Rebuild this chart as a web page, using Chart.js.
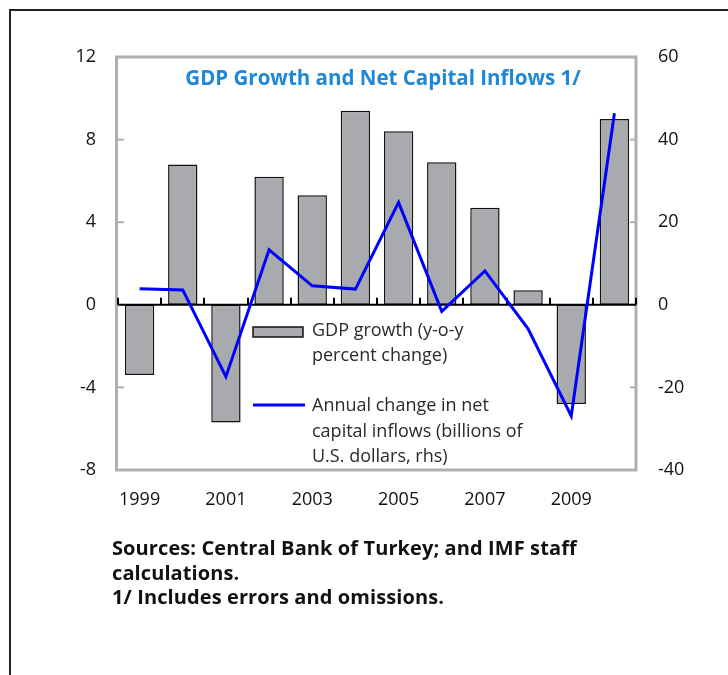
<!DOCTYPE html>
<html>
<head>
<meta charset="utf-8">
<script src="https://cdn.jsdelivr.net/npm/chart.js@4.4.1/dist/chart.umd.min.js"></script>
<style>
  html, body { margin: 0; padding: 0; background: #fff; }
  #wrap { position: relative; width: 728px; height: 675px; overflow: hidden; }
  #frame { position: absolute; left: 9px; top: 9px; width: 800px; height: 700px;
           border-left: 2px solid #222; border-top: 2px solid #222; }
  canvas { position: absolute; left: 0; top: 0; }
  #note { position: absolute; left: 112px; top: 536px; font-family: "Open Sans", sans-serif;
          font-weight: bold; font-size: 20px; line-height: 24.5px; color: #111; letter-spacing: 0.1px; }
</style>
</head>
<body>
<div id="wrap">
  <div id="frame"></div>
  <canvas id="c" width="728" height="675"></canvas>
  <div id="note">Sources: Central Bank of Turkey; and IMF staff<br>calculations.<br>1/ Includes errors and omissions.</div>
</div>
<script>
const years = ["1999","2000","2001","2002","2003","2004","2005","2006","2007","2008","2009","2010"];
const gdpGrowth = [-3.4, 6.8, -5.7, 6.2, 5.3, 9.4, 8.4, 6.9, 4.7, 0.7, -4.8, 9.0];
const capitalInflows = [3.9, 3.6, -17.4, 13.3, 4.6, 3.8, 24.8, -1.6, 8.2, -5.8, -26.9, 46.4];
const leftTicks = [-8, -4, 0, 4, 8, 12];
const rightTicks = [-40, -20, 0, 20, 40, 60];
const titleText = "GDP Growth and Net Capital Inflows 1/";
const legendBarText = ["GDP growth (y-o-y", "percent change)"];
const legendLineText = ["Annual change in net", "capital inflows (billions of", "U.S. dollars, rhs)"];

const FONT = '"Open Sans", sans-serif';

const decor = {
  id: 'decor',
  beforeDatasetsDraw(chart) {
    const ctx = chart.ctx, a = chart.chartArea;
    ctx.save();
    // plot frame
    ctx.strokeStyle = '#b0b0b0';
    ctx.lineWidth = 3;
    ctx.strokeRect(a.left - 1.5, a.top, a.right - a.left + 1.5, a.bottom - a.top);
    // inward ticks on y axes
    ctx.lineWidth = 2;
    const y = chart.scales.y, y1 = chart.scales.y1;
    leftTicks.forEach(v => {
      const p = y.getPixelForValue(v);
      ctx.beginPath(); ctx.moveTo(a.left, p); ctx.lineTo(a.left + 6, p); ctx.stroke();
    });
    rightTicks.forEach(v => {
      const p = y1.getPixelForValue(v);
      ctx.beginPath(); ctx.moveTo(a.right - 6, p); ctx.lineTo(a.right, p); ctx.stroke();
    });
    // title
    ctx.fillStyle = '#1e88d8';
    ctx.font = 'bold 20.5px ' + FONT;
    ctx.textAlign = 'center';
    ctx.textBaseline = 'middle';
    ctx.fillText(titleText, (a.left + a.right) / 2 + 6, a.top + 22);
    ctx.restore();
  },
  afterDatasetDraw(chart, args) {
    if (args.meta.type !== 'bar') return;
    const ctx = chart.ctx, a = chart.chartArea;
    const y0 = chart.scales.y.getPixelForValue(0);
    ctx.save();
    ctx.strokeStyle = '#000';
    ctx.lineWidth = 2;
    ctx.beginPath(); ctx.moveTo(a.left, y0); ctx.lineTo(a.right, y0); ctx.stroke();
    const n = years.length;
    const w = (a.right - a.left) / n;
    for (let i = 0; i <= n; i++) {
      const px = Math.round(a.left + i * w);
      ctx.beginPath(); ctx.moveTo(px, y0); ctx.lineTo(px, y0 - 7); ctx.stroke();
    }
    ctx.restore();
  },
  afterDraw(chart) {
    const ctx = chart.ctx, a = chart.chartArea;
    ctx.save();
    const lx = a.left + 135;
    // bar legend
    ctx.fillStyle = '#a8aaae';
    ctx.fillRect(lx, 327, 50, 10);
    ctx.strokeStyle = '#111';
    ctx.lineWidth = 1.5;
    ctx.strokeRect(lx, 327, 50, 10);
    // line legend
    ctx.strokeStyle = '#0000ff';
    ctx.lineWidth = 3;
    ctx.beginPath(); ctx.moveTo(lx, 405); ctx.lineTo(lx + 52, 405); ctx.stroke();
    ctx.fillStyle = '#2a2a2a';
    ctx.font = '18px ' + FONT;
    ctx.textAlign = 'left';
    ctx.textBaseline = 'middle';
    legendBarText.forEach((t, i) => ctx.fillText(t, lx + 59, 331 + i * 25));
    legendLineText.forEach((t, i) => ctx.fillText(t, lx + 59, 406 + i * 25.5));
    ctx.restore();
  }
};

new Chart(document.getElementById('c'), {
  data: {
    labels: years,
    datasets: [
      {
        type: 'line',
        label: 'Annual change in net capital inflows (billions of U.S. dollars, rhs)',
        data: capitalInflows,
        yAxisID: 'y1',
        borderColor: '#0000ff',
        borderWidth: 3,
        pointRadius: 0,
        tension: 0,
        order: 0
      },
      {
        type: 'bar',
        label: 'GDP growth (y-o-y percent change)',
        data: gdpGrowth,
        yAxisID: 'y',
        backgroundColor: '#a8aaae',
        borderColor: '#111',
        borderWidth: 1.5,
        borderSkipped: false,
        categoryPercentage: 1,
        barPercentage: 0.68,
        order: 1
      }
    ]
  },
  options: {
    responsive: false,
    devicePixelRatio: 1,
    animation: false,
    layout: { padding: { top: 57, left: 0, right: 0, bottom: 0 } },
    plugins: { legend: { display: false }, tooltip: { enabled: false }, title: { display: false } },
    scales: {
      x: {
        grid: { display: false, drawTicks: false },
        border: { display: false },
        afterFit(s) { s.height = 205; },
        ticks: {
          autoSkip: false, maxRotation: 0, padding: 19,
          color: '#111', font: { family: FONT, size: 18 },
          callback(v, i) { return i % 2 === 0 ? years[i] : ''; }
        }
      },
      y: {
        position: 'left',
        min: -8, max: 12,
        afterFit(s) { s.width = 118; },
        afterBuildTicks(s) { s.ticks = leftTicks.map(v => ({ value: v })); },
        grid: { display: false, drawTicks: false },
        border: { display: false },
        ticks: { padding: 22, color: '#111', font: { family: FONT, size: 18 } }
      },
      y1: {
        position: 'right',
        min: -40, max: 60,
        afterFit(s) { s.width = 92; },
        afterBuildTicks(s) { s.ticks = rightTicks.map(v => ({ value: v })); },
        grid: { display: false, drawTicks: false },
        border: { display: false },
        ticks: { padding: 22, color: '#111', font: { family: FONT, size: 18 } }
      }
    }
  },
  plugins: [decor]
});
</script>
</body>
</html>
